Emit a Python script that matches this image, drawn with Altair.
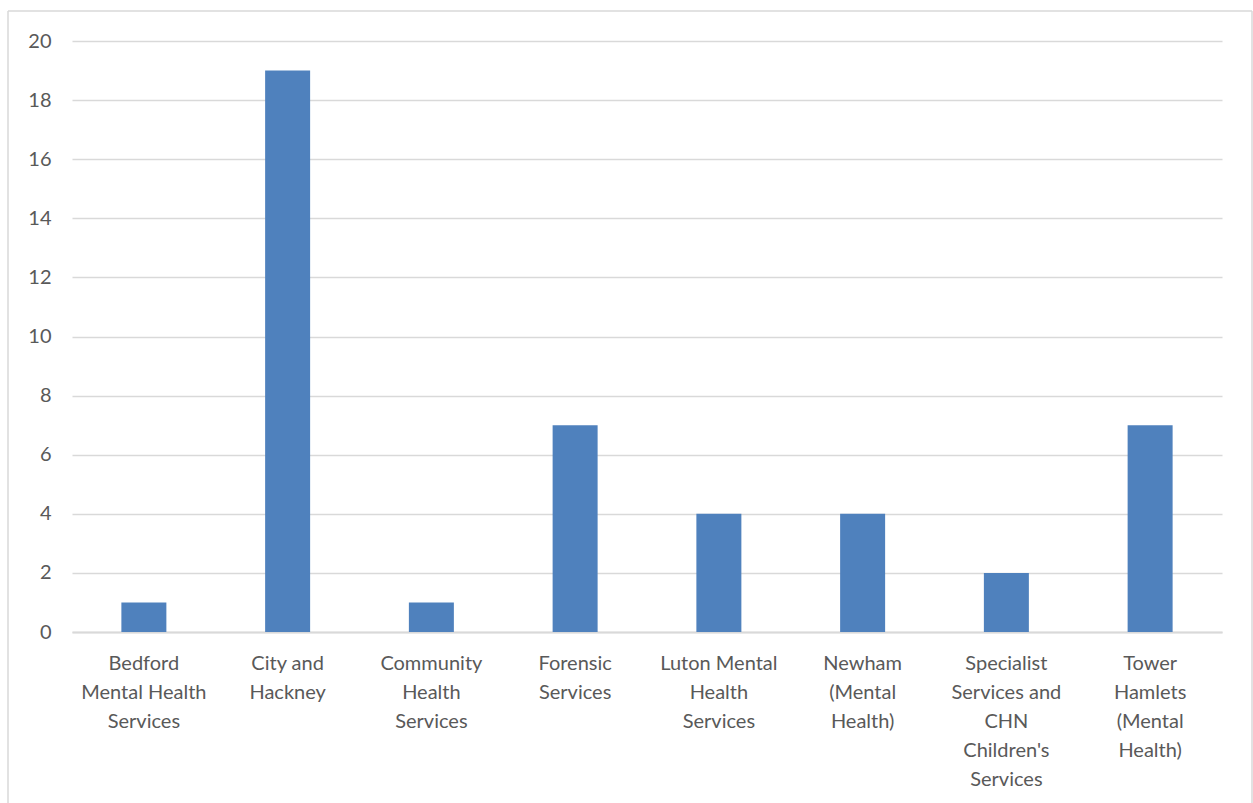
import altair as alt
import pandas as pd
import json

categories = [
    "Bedford Mental Health Services",
    "City and Hackney",
    "Community Health Services",
    "Forensic Services",
    "Luton Mental Health Services",
    "Newham (Mental Health)",
    "Specialist Services and CHN Children's Services",
    "Tower Hamlets (Mental Health)",
]
values = [1, 19, 1, 7, 4, 4, 2, 7]
label_lines = [
    ["Bedford", "Mental Health", "Services"],
    ["City and", "Hackney"],
    ["Community", "Health", "Services"],
    ["Forensic", "Services"],
    ["Luton Mental", "Health", "Services"],
    ["Newham", "(Mental", "Health)"],
    ["Specialist", "Services and", "CHN", "Children's", "Services"],
    ["Tower", "Hamlets", "(Mental", "Health)"],
]
y_ticks = [0, 2, 4, 6, 8, 10, 12, 14, 16, 18, 20]

df = pd.DataFrame({"category": categories, "value": values})

expr = "''"
for cat, lines in reversed(list(zip(categories, label_lines))):
    expr = f"datum.value == {json.dumps(cat)} ? {json.dumps(lines)} : ({expr})"

FONT = "Lato"
GREY = "#595959"
BORDER = "#d9d9d9"

bars = alt.Chart(df).mark_bar(color="#4f81bd").encode(
    x=alt.X(
        "category:N",
        sort=categories,
        scale=alt.Scale(paddingInner=0.687, paddingOuter=0.3435),
        axis=alt.Axis(
            title=None,
            labelAngle=0,
            labelExpr=expr,
            labelFont=FONT,
            labelFontSize=20,
            labelColor=GREY,
            labelLineHeight=29,
            labelPadding=21,
            labelBaseline="top",
            ticks=False,
            grid=False,
            domainColor="#d9d9d9",
            domainWidth=2,
        ),
    ),
    y=alt.Y(
        "value:Q",
        scale=alt.Scale(domain=[0, 20], nice=False),
        axis=alt.Axis(
            title=None,
            values=y_ticks,
            labelFont=FONT,
            labelFontSize=20,
            labelColor=GREY,
            labelPadding=21,
            ticks=False,
            domain=False,
            gridColor="#d9d9d9",
            gridWidth=1.3,
        ),
    ),
)

one = pd.DataFrame({"a": [0]})
left_edge = alt.Chart(one).mark_rule(color=BORDER, strokeWidth=1.5, clip=False).encode(
    x=alt.value(-64), y=alt.value(-30), y2=alt.value(800)
)
right_edge = alt.Chart(one).mark_rule(color=BORDER, strokeWidth=1.5, clip=False).encode(
    x=alt.value(1180), y=alt.value(-30), y2=alt.value(800)
)
top_edge = alt.Chart(one).mark_rule(color=BORDER, strokeWidth=1.5, clip=False).encode(
    x=alt.value(-64), x2=alt.value(1180), y=alt.value(-30)
)

chart = alt.layer(bars, left_edge, right_edge, top_edge).properties(
    width=1150,
    height=591,
    background="white",
    padding={"left": 72, "top": 41, "right": 31, "bottom": 171},
    autosize=alt.AutoSizeParams(type="none"),
).configure_view(stroke="transparent", strokeWidth=0)

chart.save("out.html", embed_options={"renderer": "svg", "actions": False})
